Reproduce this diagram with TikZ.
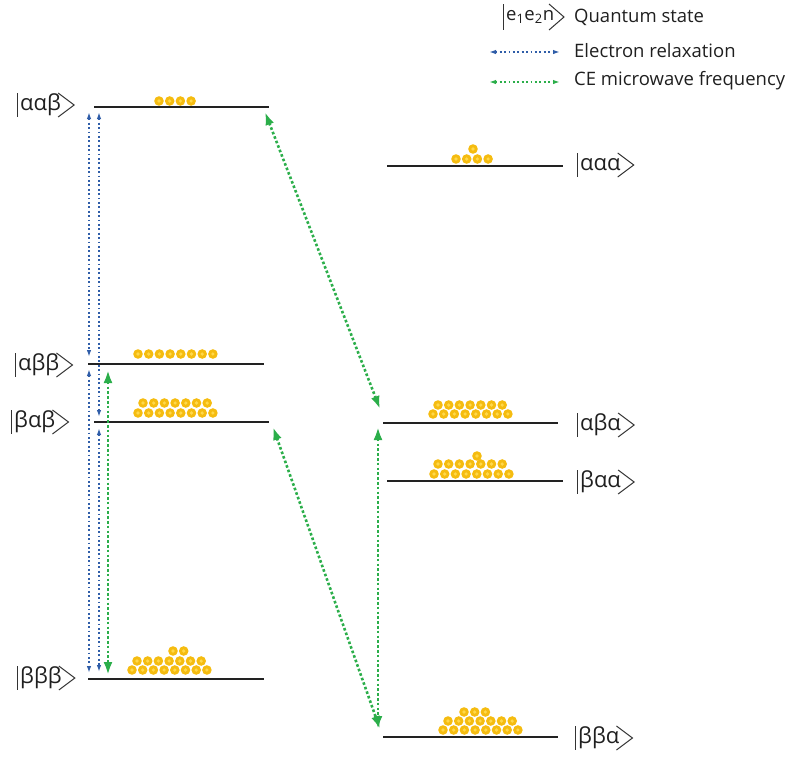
\documentclass[tikz,border=0pt]{standalone}
\usepackage{fontspec}
\setmainfont{Open Sans}
\usetikzlibrary{arrows.meta,calc}
\definecolor{gold}{HTML}{F5BC10}
\definecolor{goldlight}{HTML}{FFD84A}
\definecolor{relaxblue}{HTML}{2F5DA8}
\definecolor{cegreen}{HTML}{2BAE4A}
\definecolor{levelgray}{HTML}{222222}
\tikzset{
  level/.style={line width=2.9pt, draw=levelgray},
  relax/.style={draw=relaxblue, line width=1.4pt, dash pattern=on 1.8pt off 2.6pt,
    {Latex[length=7pt,width=4.5pt]}-{Latex[length=7pt,width=4.5pt]}},
  ce/.style={draw=cegreen, line width=2.6pt, dash pattern=on 2.6pt off 2.2pt,
    {Latex[length=13pt,width=9pt]}-{Latex[length=13pt,width=9pt]}},
  celegend/.style={draw=cegreen, line width=1.4pt, dash pattern=on 1.8pt off 2.6pt,
    {Latex[length=7pt,width=4.5pt]}-{Latex[length=7pt,width=4.5pt]}},
  ketlabel/.style={font=\fontsize{22}{26}\selectfont, inner sep=0pt, anchor=west, text=black!88},
  ketline/.style={line width=1pt, draw=black!80},
  legendtext/.style={font=\fontsize{18.5}{22}\selectfont, anchor=west, inner sep=0pt, text=black!88},
  ball/.style={fill=gold},
  ballcore/.style={fill=goldlight},
}
\newcommand{\ketlab}[4]{%
  \node[ketlabel] (#1) at (#2+3,#3) {#4};
  \draw[ketline] (#2,#3-12) -- (#2,#3+12);
  \draw[ketline] ($(#1.east)+(-3,-12)$) -- ($(#1.east)+(13,0)$) -- ($(#1.east)+(-3,12)$);
}
\newcommand{\ballrow}[3]{%
  \pgfmathtruncatemacro{\lastb}{#3-1}
  \foreach \i in {0,...,\lastb}{
    \fill[ball] (#1+\i*10.7,#2) circle (4.8);
    \fill[ballcore] (#1+\i*10.7,#2) circle (1.8);
  }
}
\begin{document}
\begin{tikzpicture}[x=1pt,y=-1pt]
\useasboundingbox (0,0) rectangle (796,756);
% level coordinates
\coordinate (aabL) at (94,107);  \coordinate (aabR) at (269,107);
\coordinate (abbL) at (88,364);  \coordinate (abbR) at (264,364);
\coordinate (babL) at (94,422);  \coordinate (babR) at (269,422);
\coordinate (bbbL) at (88,679);  \coordinate (bbbR) at (264,679);
\coordinate (aaaL) at (387,166); \coordinate (aaaR) at (563,166);
\coordinate (abaL) at (383,423); \coordinate (abaR) at (558,423);
\coordinate (baaL) at (387,481); \coordinate (baaR) at (563,481);
\coordinate (bbaL) at (383,737); \coordinate (bbaR) at (558,737);
\foreach \s in {aab,abb,bab,bbb,aaa,aba,baa,bba}{
  \draw[level] (\s L) -- (\s R);
}
% kets
\ketlab{kaab}{17}{105}{ααβ}
\ketlab{kabb}{15}{365}{αββ}
\ketlab{kbab}{11}{422}{βαβ}
\ketlab{kbbb}{17}{678}{βββ}
\ketlab{kaaa}{577}{165}{ααα}
\ketlab{kaba}{577}{425}{αβα}
\ketlab{kbaa}{577}{482}{βαα}
\ketlab{kbba}{575}{738}{ββα}
% balls
\ballrow{159}{101}{4}
\ballrow{138}{354}{8}
\ballrow{143}{403}{7}
\ballrow{138}{413}{8}
\ballrow{173}{651}{2}
\ballrow{137}{661}{7}
\ballrow{132}{670}{8}
\ballrow{473}{149}{1}
\ballrow{456}{159}{4}
\ballrow{438}{405}{7}
\ballrow{433}{414}{8}
\ballrow{477}{456}{1}
\ballrow{438}{464}{7}
\ballrow{434}{474}{8}
\ballrow{464}{712}{3}
\ballrow{448}{721}{7}
\ballrow{443}{730}{8}
% arrow endpoints
\coordinate (bA1) at (89,112); \coordinate (bA2) at (89,357);
\coordinate (bA3) at (89,369); \coordinate (bA4) at (89,673);
\coordinate (bB1) at (99,112); \coordinate (bB2) at (99,417);
\coordinate (bB3) at (99,428); \coordinate (bB4) at (99,672);
\coordinate (gL1) at (108,370); \coordinate (gL2) at (108,675);
\coordinate (gD1) at (265,112); \coordinate (gD2) at (380,409);
\coordinate (gE1) at (273,427); \coordinate (gE2) at (380,729);
\coordinate (gV1) at (378,427); \coordinate (gV2) at (378,729);
\draw[relax] (bA1) -- (bA2);
\draw[relax] (bA3) -- (bA4);
\draw[relax] (bB1) -- (bB2);
\draw[relax] (bB3) -- (bB4);
\draw[ce] (gL1) -- (gL2);
\draw[ce] (gD1) -- (gD2);
\draw[ce] (gE1) -- (gE2);
\draw[ce] (gV1) -- (gV2);
% legend
\node[legendtext] (lgket) at (506,17) {e\textsubscript{1}e\textsubscript{2}n};
\draw[ketline] (503,4) -- (503,30);
\draw[ketline] (549,4) -- (564,17) -- (549,30);
\node[legendtext] (lgq) at (574,17) {Quantum state};
\coordinate (lb1) at (489,52); \coordinate (lb2) at (560,52);
\draw[relax] (lb1) -- (lb2);
\node[legendtext] (lge) at (574,51) {Electron relaxation};
\coordinate (lg1) at (489,82); \coordinate (lg2) at (560,82);
\draw[celegend] (lg1) -- (lg2);
\node[legendtext] (lgc) at (574,81) {CE microwave frequency};
\end{tikzpicture}
\end{document}
